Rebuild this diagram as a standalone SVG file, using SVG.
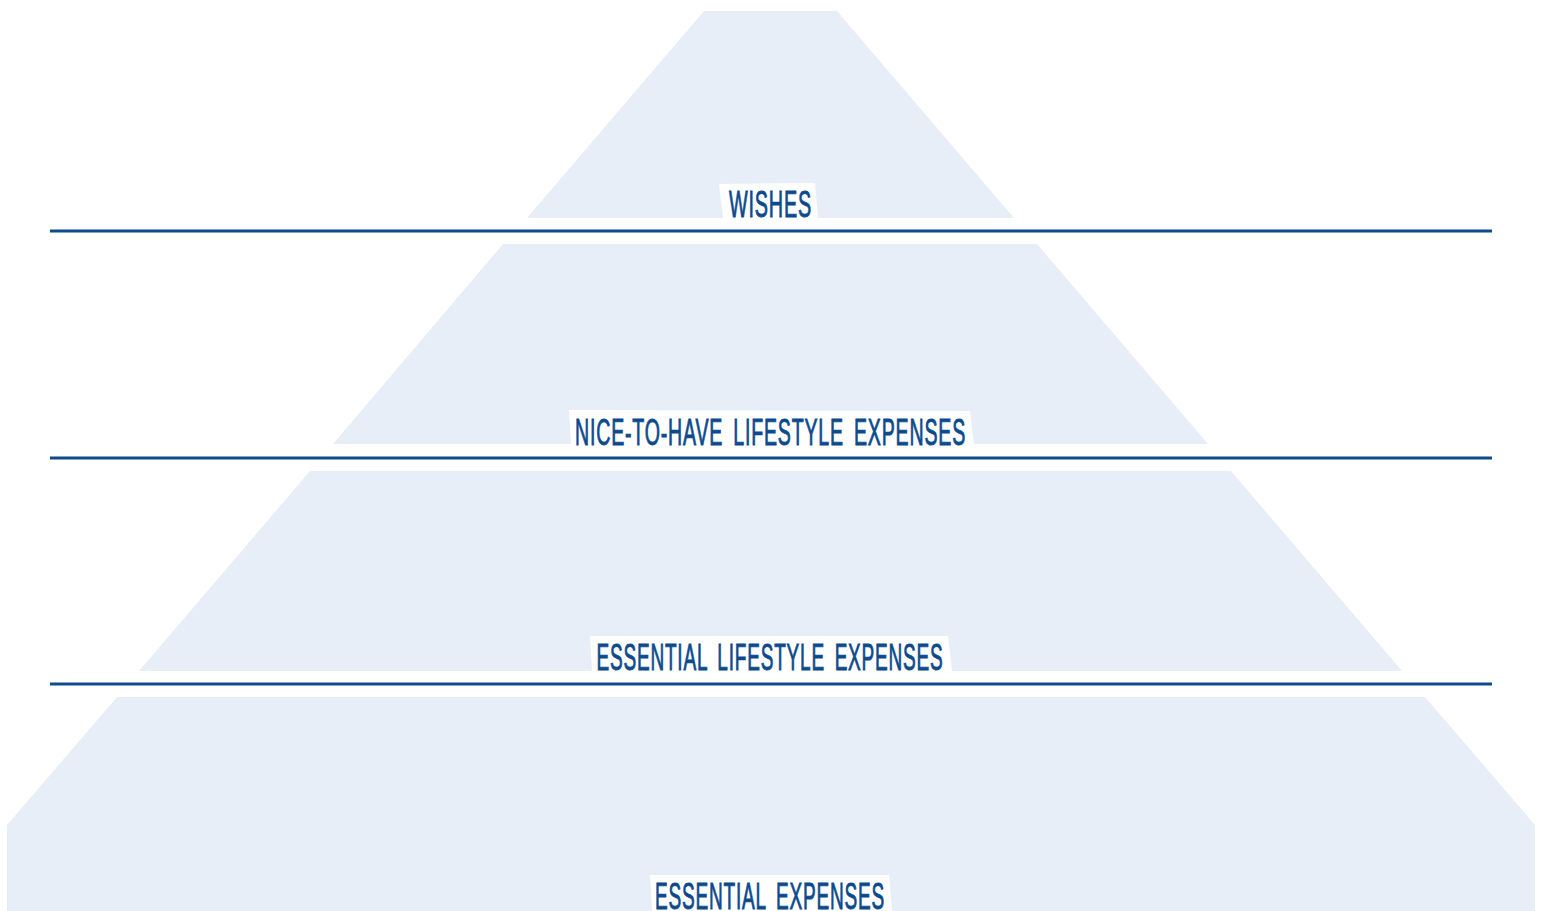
<svg xmlns="http://www.w3.org/2000/svg" width="1541" height="911" viewBox="0 0 1541 911">
  <style>
    .tier { fill: #e8eef7; }
    .lbg { fill: #ffffff; }
    .lbl { font-family: "Liberation Sans", Arial, sans-serif; font-size: 36px; fill: #0d4a8c; stroke: #0d4a8c; stroke-width: 0.9px; text-anchor: middle; letter-spacing: 1.5px; word-spacing: 7px; }
    .sep { stroke: #0f4a8a; stroke-width: 3; }
  </style>
  <rect width="1541" height="911" fill="#ffffff"/>
  <g id="tier-wishes">
    <polygon class="tier" points="704,11 837,11 1014,218 527,218"/>
    <polygon class="lbg" points="719,184 815,183 818,218 723,218"/>
    <text class="lbl" x="770.5" y="217" textLength="83" lengthAdjust="spacingAndGlyphs">WISHES</text>
  </g>
  <g id="tier-nice">
    <polygon class="tier" points="503,244 1037,244 1208,444 333,444"/>
    <polygon class="lbg" points="569,410 970,411 974,445 571,445"/>
    <text class="lbl" x="770.5" y="445" textLength="391" lengthAdjust="spacingAndGlyphs">NICE-TO-HAVE LIFESTYLE EXPENSES</text>
  </g>
  <g id="tier-essential-lifestyle">
    <polygon class="tier" points="310,471 1231,471 1402,671 139,671"/>
    <polygon class="lbg" points="590,636 948,636 952,671 592,671"/>
    <text class="lbl" x="770" y="670" textLength="347" lengthAdjust="spacingAndGlyphs">ESSENTIAL LIFESTYLE EXPENSES</text>
  </g>
  <g id="tier-essential">
    <polygon class="tier" points="117,697 1425,697 1535,825 1535,911 7,911 7,825"/>
    <polygon class="lbg" points="650,875 889,875 892,911 652,911"/>
    <text class="lbl" x="770" y="909" textLength="230" lengthAdjust="spacingAndGlyphs">ESSENTIAL EXPENSES</text>
  </g>
  <g id="connectors">
    <line class="sep" x1="50" y1="231" x2="1492" y2="231"/>
    <line class="sep" x1="50" y1="458" x2="1492" y2="458"/>
    <line class="sep" x1="50" y1="684" x2="1492" y2="684"/>
  </g>
</svg>
